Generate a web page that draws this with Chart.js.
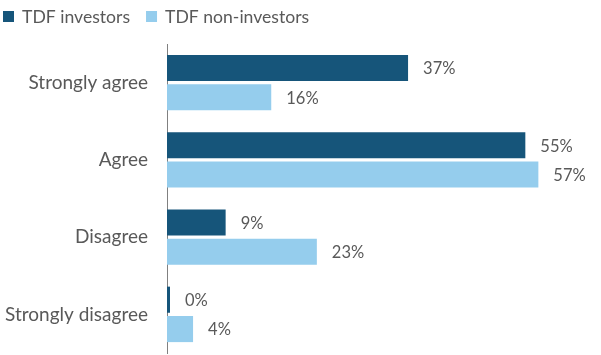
<!DOCTYPE html>
<html>
<head>
<meta charset="utf-8">
<script src="https://cdn.jsdelivr.net/npm/chart.js@4"></script>
<style>
html,body{margin:0;padding:0;background:#fff;overflow:hidden;}
canvas{display:block;}
</style>
</head>
<body>
<canvas id="c" width="601" height="355"></canvas>
<script>
const categories = ["Strongly agree", "Agree", "Disagree", "Strongly disagree"];
const seriesNames = ["TDF investors", "TDF non-investors"];
const investors = [37, 55, 9, 0];
const nonInvestors = [16, 57, 23, 4];
const seriesColors = ["#16557A", "#95CDED"];
const textColor = "#595959";
const FONT = "Lato, 'Open Sans', sans-serif";

const valueLabels = {
  id: 'valueLabels',
  afterDatasetsDraw(chart) {
    const ctx = chart.ctx;
    ctx.save();
    ctx.font = "16.5px " + FONT;
    ctx.fillStyle = textColor;
    ctx.textAlign = 'left';
    ctx.textBaseline = 'middle';
    chart.data.datasets.forEach((ds, di) => {
      chart.getDatasetMeta(di).data.forEach((bar, i) => {
        ctx.fillText(ds.data[i] + '%', bar.x + 15, bar.y + 1);
      });
    });
    ctx.restore();
  }
};

const topLegend = {
  id: 'topLegend',
  afterDraw(chart) {
    const ctx = chart.ctx;
    ctx.save();
    ctx.font = "17.6px " + FONT;
    ctx.textBaseline = 'middle';
    ctx.textAlign = 'left';
    let x = 3;
    chart.data.datasets.forEach(ds => {
      ctx.fillStyle = ds.backgroundColor;
      ctx.fillRect(x, 11, 11, 11);
      ctx.fillStyle = textColor;
      ctx.fillText(ds.label, x + 19, 17);
      x += 19 + ctx.measureText(ds.label).width + 16;
    });
    ctx.restore();
  }
};

new Chart(document.getElementById('c'), {
  type: 'bar',
  data: {
    labels: categories,
    datasets: [
      { label: seriesNames[0], data: investors, backgroundColor: seriesColors[0] },
      { label: seriesNames[1], data: nonInvestors, backgroundColor: seriesColors[1] }
    ]
  },
  options: {
    indexAxis: 'y',
    responsive: false,
    animation: false,
    categoryPercentage: 0.76,
    barPercentage: 0.89,
    minBarLength: 3,
    layout: { padding: { top: 44, right: 4, bottom: 2, left: 0 } },
    plugins: { legend: { display: false }, tooltip: { enabled: false } },
    scales: {
      x: { display: false, min: 0, max: 66 },
      y: {
        afterFit(s) { s.width = 167; s.paddingTop = 0; s.paddingBottom = 0; },
        grid: { display: false, drawTicks: false },
        border: { display: true, color: '#808080', width: 1 },
        ticks: { color: textColor, font: { family: FONT, size: 19 }, padding: 19 }
      }
    }
  },
  plugins: [valueLabels, topLegend]
});
</script>
</body>
</html>
